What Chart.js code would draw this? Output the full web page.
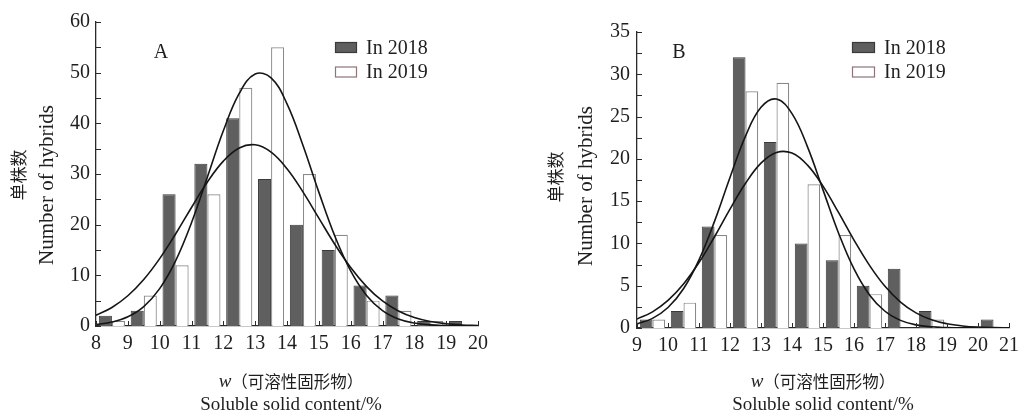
<!DOCTYPE html>
<html>
<head>
<meta charset="utf-8">
<script src="https://cdn.jsdelivr.net/npm/chart.js@4.4.1/dist/chart.umd.min.js"></script>
<style>
  html, body { margin: 0; padding: 0; background: #fff; }
  #wrap { position: relative; width: 1025px; height: 416px; overflow: hidden; }
  #wrap canvas { position: absolute; top: 0; }
</style>
</head>
<body>
<div id="wrap">
  <canvas id="chartA" width="512" height="416" style="left:0px"></canvas>
  <canvas id="chartB" width="513" height="416" style="left:512px"></canvas>
</div>
<script>
// ---------- Panel A ----------
const binsA = [8, 9, 10, 11, 12, 13, 14, 15, 16, 17, 18, 19];
const count2018A = [2, 3, 26, 32, 41, 29, 20, 15, 8, 6, 1, 1];
const count2019A = [1, 6, 12, 26, 47, 55, 30, 18, 5, 3, 1, 0];
const curveXA = [8, 8.5, 9, 9.5, 10, 10.5, 11, 11.5, 12, 12.5, 13, 13.5, 14, 14.5, 15, 15.5, 16, 16.5, 17, 17.5, 18, 18.5, 19, 19.5, 20];
const fit2018A = [2.12, 3.66, 5.97, 9.17, 13.29, 18.16, 23.39, 28.42, 32.54, 35.13, 35.76, 34.31, 31.04, 26.48, 21.29, 16.14, 11.54, 7.78, 4.94, 2.96, 1.67, 0.89, 0.45, 0.21, 0.09];
const fit2019A = [0.31, 0.78, 1.82, 3.84, 7.37, 12.86, 20.39, 29.40, 38.52, 45.90, 49.73, 48.97, 43.85, 35.69, 26.42, 17.78, 10.87, 6.04, 3.05, 1.40, 0.59, 0.22, 0.08, 0.02, 0.01];
const xTicksA = [8, 9, 10, 11, 12, 13, 14, 15, 16, 17, 18, 19, 20];
const yTicksA = [0, 10, 20, 30, 40, 50, 60];
const yMinorA = [5, 15, 25, 35, 45, 55];

// ---------- Panel B ----------
const binsB = [9, 10, 11, 12, 13, 14, 15, 16, 17, 18, 19, 20];
const count2018B = [1, 2, 12, 32, 22, 10, 8, 5, 7, 2, 0, 1];
const count2019B = [1, 3, 11, 28, 29, 17, 11, 4, 0, 1, 0, 0];
const curveXB = [9, 9.5, 10, 10.5, 11, 11.5, 12, 12.5, 13, 13.5, 14, 14.5, 15, 15.5, 16, 16.5, 17, 17.5, 18, 18.5, 19, 19.5, 20, 20.5, 21];
const fit2018B = [1.05, 1.91, 3.26, 5.20, 7.74, 10.79, 14.05, 17.11, 19.50, 20.76, 20.68, 19.26, 16.77, 13.66, 10.40, 7.41, 4.93, 3.07, 1.79, 0.97, 0.50, 0.24, 0.10, 0.04, 0.02];
const fit2019B = [0.48, 1.14, 2.42, 4.64, 8.06, 12.61, 17.80, 22.69, 26.09, 27.07, 25.35, 21.42, 16.33, 11.24, 6.98, 3.91, 1.98, 0.90, 0.37, 0.14, 0.05, 0.01, 0, 0, 0];
const xTicksB = [9, 10, 11, 12, 13, 14, 15, 16, 17, 18, 19, 20, 21];
const yTicksB = [0, 5, 10, 15, 20, 25, 30, 35];
const yMinorB = [2.5, 7.5, 12.5, 17.5, 22.5, 27.5, 32.5];

// ---------- Shared text ----------
const seriesNames = ['In 2018', 'In 2019'];
const yTitleCn = '单株数';
const yTitleEn = 'Number of hybrids';
const xTitleVar = 'w';
const xTitleCn = '（可溶性固形物）';
const xTitleEn = 'Soluble solid content/%';

const SERIF = '"Liberation Serif", "Times New Roman", serif';
const CJK = '"Noto Sans CJK SC", "Noto Sans CJK JP", sans-serif';
const INK = '#1e1e1e';

Chart.defaults.font.family = SERIF;
Chart.defaults.color = INK;

// Inward tick marks, axis titles, legend and panel letter
const panelDecor = {
  id: 'panelDecor',
  afterDraw(chart, args, o) {
    const ctx = chart.ctx;
    const area = chart.chartArea;
    const xs = chart.scales.x, ys = chart.scales.y;
    ctx.save();

    // tick marks pointing into the plot
    ctx.strokeStyle = '#2a2a2a';
    ctx.lineWidth = 1;
    o.yMarks.forEach(v => {
      const py = Math.round(ys.getPixelForValue(v)) + 0.5;
      ctx.beginPath(); ctx.moveTo(area.left, py); ctx.lineTo(area.left + 5, py); ctx.stroke();
    });
    o.xMarks.forEach(v => {
      const px = Math.round(xs.getPixelForValue(v)) + 0.5;
      ctx.beginPath(); ctx.moveTo(px, area.bottom); ctx.lineTo(px, area.bottom - 5); ctx.stroke();
    });

    ctx.fillStyle = INK;
    ctx.textBaseline = 'middle';

    // y-axis title, two rotated lines
    const yt = o.yTitle;
    ctx.save();
    ctx.translate(yt.xCn, yt.cyCn);
    ctx.rotate(-Math.PI / 2);
    ctx.textAlign = 'center';
    ctx.font = '17px ' + CJK;
    ctx.fillText(yTitleCn, 0, 0);
    ctx.restore();
    ctx.save();
    ctx.translate(yt.xEn, yt.cyEn);
    ctx.rotate(-Math.PI / 2);
    ctx.textAlign = 'center';
    ctx.font = '21px ' + SERIF;
    ctx.fillText(yTitleEn, 0, 0);
    ctx.restore();

    // x-axis title, two centred lines
    const xt = o.xTitle;
    const fVar = 'italic 19px ' + SERIF;
    const fCn = '16.5px ' + CJK;
    ctx.font = fVar; const w1 = ctx.measureText(xTitleVar).width;
    ctx.font = fCn; const w2 = ctx.measureText(xTitleCn).width;
    const x0 = xt.cx - (w1 + w2) / 2;
    ctx.textAlign = 'left';
    ctx.font = fVar; ctx.fillText(xTitleVar, x0, xt.y1);
    ctx.font = fCn; ctx.fillText(xTitleCn, x0 + w1, xt.y1);
    ctx.textAlign = 'center';
    ctx.font = '19px ' + SERIF;
    ctx.fillText(xTitleEn, xt.cx, xt.y2);

    // legend inside the plot
    const lg = o.legend;
    const bars = chart.data.datasets.filter(d => d.type === 'bar');
    bars.forEach((d, i) => {
      const cy = lg.y + i * lg.lineH;
      ctx.fillStyle = d.backgroundColor;
      ctx.fillRect(lg.x, cy - lg.bh / 2, lg.bw, lg.bh);
      ctx.strokeStyle = lg.strokes[i];
      ctx.lineWidth = 1.2;
      ctx.strokeRect(lg.x + 0.5, cy - lg.bh / 2 + 0.5, lg.bw - 1, lg.bh - 1);
      ctx.fillStyle = INK;
      ctx.font = '20px ' + SERIF;
      ctx.textAlign = 'left';
      ctx.fillText(d.label, lg.x + lg.bw + 9, cy + 1);
    });

    // panel letter
    ctx.font = '20px ' + SERIF;
    ctx.textAlign = 'center';
    ctx.fillText(o.letter.text, o.letter.x, o.letter.y);

    ctx.restore();
  }
};

function makePanel(id, p) {
  const canvas = document.getElementById(id);
  const W = canvas.width, H = canvas.height;
  const toPts = (xs, ys, off) => xs.map((x, i) => ({ x: x + off, y: ys[i] }));
  return new Chart(canvas, {
    data: {
      datasets: [
        { type: 'line', label: 'fit 2018', data: toPts(p.curveX, p.fit2018, 0), borderColor: '#151515', borderWidth: 1.6, pointRadius: 0, tension: 0.4, fill: false, order: 0 },
        { type: 'line', label: 'fit 2019', data: toPts(p.curveX, p.fit2019, 0), borderColor: '#151515', borderWidth: 1.6, pointRadius: 0, tension: 0.4, fill: false, order: 0 },
        { type: 'bar', label: seriesNames[0], data: toPts(p.bins, p.c2018, 0.5), backgroundColor: '#5f5f5f', borderColor: '#3a3a3a', borderWidth: 1, categoryPercentage: 0.82, barPercentage: 1.0, order: 1 },
        { type: 'bar', label: seriesNames[1], data: toPts(p.bins, p.c2019, 0.5), backgroundColor: '#ffffff', borderColor: '#8a8a8a', borderWidth: 1.2, categoryPercentage: 0.82, barPercentage: 1.0, order: 1 }
      ]
    },
    options: {
      responsive: false,
      animation: false,
      devicePixelRatio: 1,
      layout: { padding: { left: 0, right: W - p.area.right, top: p.area.top, bottom: 0 } },
      plugins: {
        legend: { display: false },
        tooltip: { enabled: false },
        panelDecor: {
          yMarks: p.yTicks.concat(p.yMinor),
          xMarks: p.xTicks,
          yTitle: p.yTitle,
          xTitle: p.xTitle,
          legend: p.legend,
          letter: p.letter
        }
      },
      scales: {
        x: {
          type: 'linear',
          min: p.xTicks[0],
          max: p.xTicks[p.xTicks.length - 1],
          offset: false,
          afterFit: s => { s.height = H - p.area.bottom; },
          afterBuildTicks: s => { s.ticks = p.xTicks.map(v => ({ value: v })); },
          grid: { display: false, drawTicks: false },
          border: { display: true, color: '#2a2a2a', width: 1.3 },
          ticks: { autoSkip: false, maxRotation: 0, padding: 6, color: INK, font: { size: 20, family: SERIF } }
        },
        y: {
          type: 'linear',
          min: p.yTicks[0],
          max: p.yTicks[p.yTicks.length - 1],
          afterFit: s => { s.width = p.area.left; },
          afterBuildTicks: s => { s.ticks = p.yTicks.map(v => ({ value: v })); },
          grid: { display: false, drawTicks: false },
          border: { display: true, color: '#2a2a2a', width: 1.3 },
          ticks: { padding: p.yPad, color: INK, font: { size: 20, family: SERIF } }
        }
      }
    },
    plugins: [panelDecor]
  });
}

makePanel('chartA', {
  bins: binsA, c2018: count2018A, c2019: count2019A,
  curveX: curveXA, fit2018: fit2018A, fit2019: fit2019A,
  xTicks: xTicksA, yTicks: yTicksA, yMinor: yMinorA,
  area: { left: 96, right: 478, top: 22, bottom: 326 },
  yPad: 6,
  yTitle: { xCn: 19, xEn: 47, cyCn: 175, cyEn: 185 },
  xTitle: { cx: 291, y1: 382, y2: 405 },
  legend: { x: 335, y: 47.5, lineH: 24.5, bw: 22, bh: 11, strokes: ['#3a3a3a', '#8c7676'] },
  letter: { text: 'A', x: 161, y: 53 }
});

makePanel('chartB', {
  bins: binsB, c2018: count2018B, c2019: count2019B,
  curveX: curveXB, fit2018: fit2018B, fit2019: fit2019B,
  xTicks: xTicksB, yTicks: yTicksB, yMinor: yMinorB,
  area: { left: 125, right: 500, top: 32, bottom: 328 },
  yPad: 7,
  yTitle: { xCn: 44, xEn: 74, cyCn: 177, cyEn: 186 },
  xTitle: { cx: 311, y1: 382, y2: 405 },
  legend: { x: 340, y: 47.5, lineH: 24.5, bw: 23, bh: 11, strokes: ['#3a3a3a', '#8c7676'] },
  letter: { text: 'B', x: 167, y: 53 }
});
</script>
</body>
</html>
